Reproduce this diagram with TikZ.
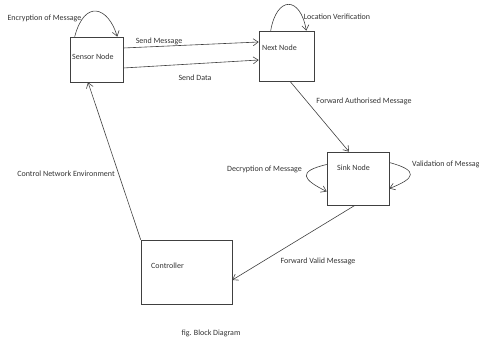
\documentclass[tikz,border=0pt]{standalone}
\usepackage{fontspec}
\setmainfont{Carlito}
\usetikzlibrary{arrows.meta}
\usetikzlibrary{calc}

\tikzset{
  block/.style={draw=black!75, line width=0.6pt, inner sep=0pt},
  lbl/.style={inner sep=0pt, text=black!80, font=\fontsize{8}{9.6}\selectfont},
  arr/.style={draw=black!75, line width=0.6pt, -{Straight Barb[length=5pt,width=7pt]}},
}

\begin{document}
\begin{tikzpicture}[x=1pt, y=1pt]
    \useasboundingbox (0,0) rectangle (479,338);

    % blocks
    \node[block, minimum width=53pt, minimum height=45pt] (sensor) at (96.5,278.5) {};
    \node[block, minimum width=55pt, minimum height=50pt] (next) at (286.5,282) {};
    \node[block, minimum width=62pt, minimum height=53pt] (sink) at (358,159.5) {};
    \node[block, minimum width=91pt, minimum height=64pt] (ctrl) at (186.5,66) {};

    \node[lbl, anchor=west] (sensortxt) at (72,281) {Sensor Node};
    \node[lbl, anchor=west] (nexttxt) at (262,290) {Next Node};
    \node[lbl, anchor=west] (sinktxt) at (337,170) {Sink Node};
    \node[lbl, anchor=west] (ctrltxt) at (151,72) {Controller};

    % connectors
    \draw[arr] ([xshift=5pt]sensor.north west) .. controls +(10,38) and +(-9,30) .. ([xshift=-6pt]sensor.north east);
    \draw[arr] ([xshift=12pt]next.north west) .. controls +(6,35) and +(-6,35) .. ([xshift=-8pt]next.north east);
    \draw[arr] ([yshift=11.5pt]sensor.east) -- ([yshift=14pt]next.west);
    \draw[arr] ([yshift=-8.5pt]sensor.east) -- ([yshift=-4pt]next.west);
    \draw[arr] ([xshift=3.5pt]next.south) -- ([xshift=-9pt]sink.north);
    \draw[arr] ([yshift=14pt]sink.west) .. controls +(-30,-7) and +(-24,12) .. ([yshift=-13pt]sink.west);
    \draw[arr] ([yshift=16pt]sink.east) .. controls +(30,-8) and +(26,10) .. ([yshift=-10pt]sink.east);
    \draw[arr] ([xshift=-3pt]sink.south) -- ([yshift=-8pt]ctrl.east);
    \draw[arr] (ctrl.north west) -- ([xshift=-8.5pt]sensor.south);

    % labels
    \node[lbl] (encl) at (44.5,320) {Encryption of Message};
    \node[lbl] (locl) at (337,321) {Location Verification};
    \node[lbl] (sendm) at (159,297) {Send Message};
    \node[lbl] (sendd) at (195,260) {Send Data};
    \node[lbl] (fwda) at (364,237) {Forward Authorised Message};
    \node[lbl] (decl) at (264.5,169) {Decryption of Message};
    \node[lbl, anchor=west] (vall) at (412,174) {Validation of Messag};
    \node[lbl] (cne) at (66,164) {Control Network Environment};
    \node[lbl] (fwdv) at (318,77) {Forward Valid Message};
    \node[lbl] (cap) at (211,5) {fig. Block Diagram};
\end{tikzpicture}
\end{document}
